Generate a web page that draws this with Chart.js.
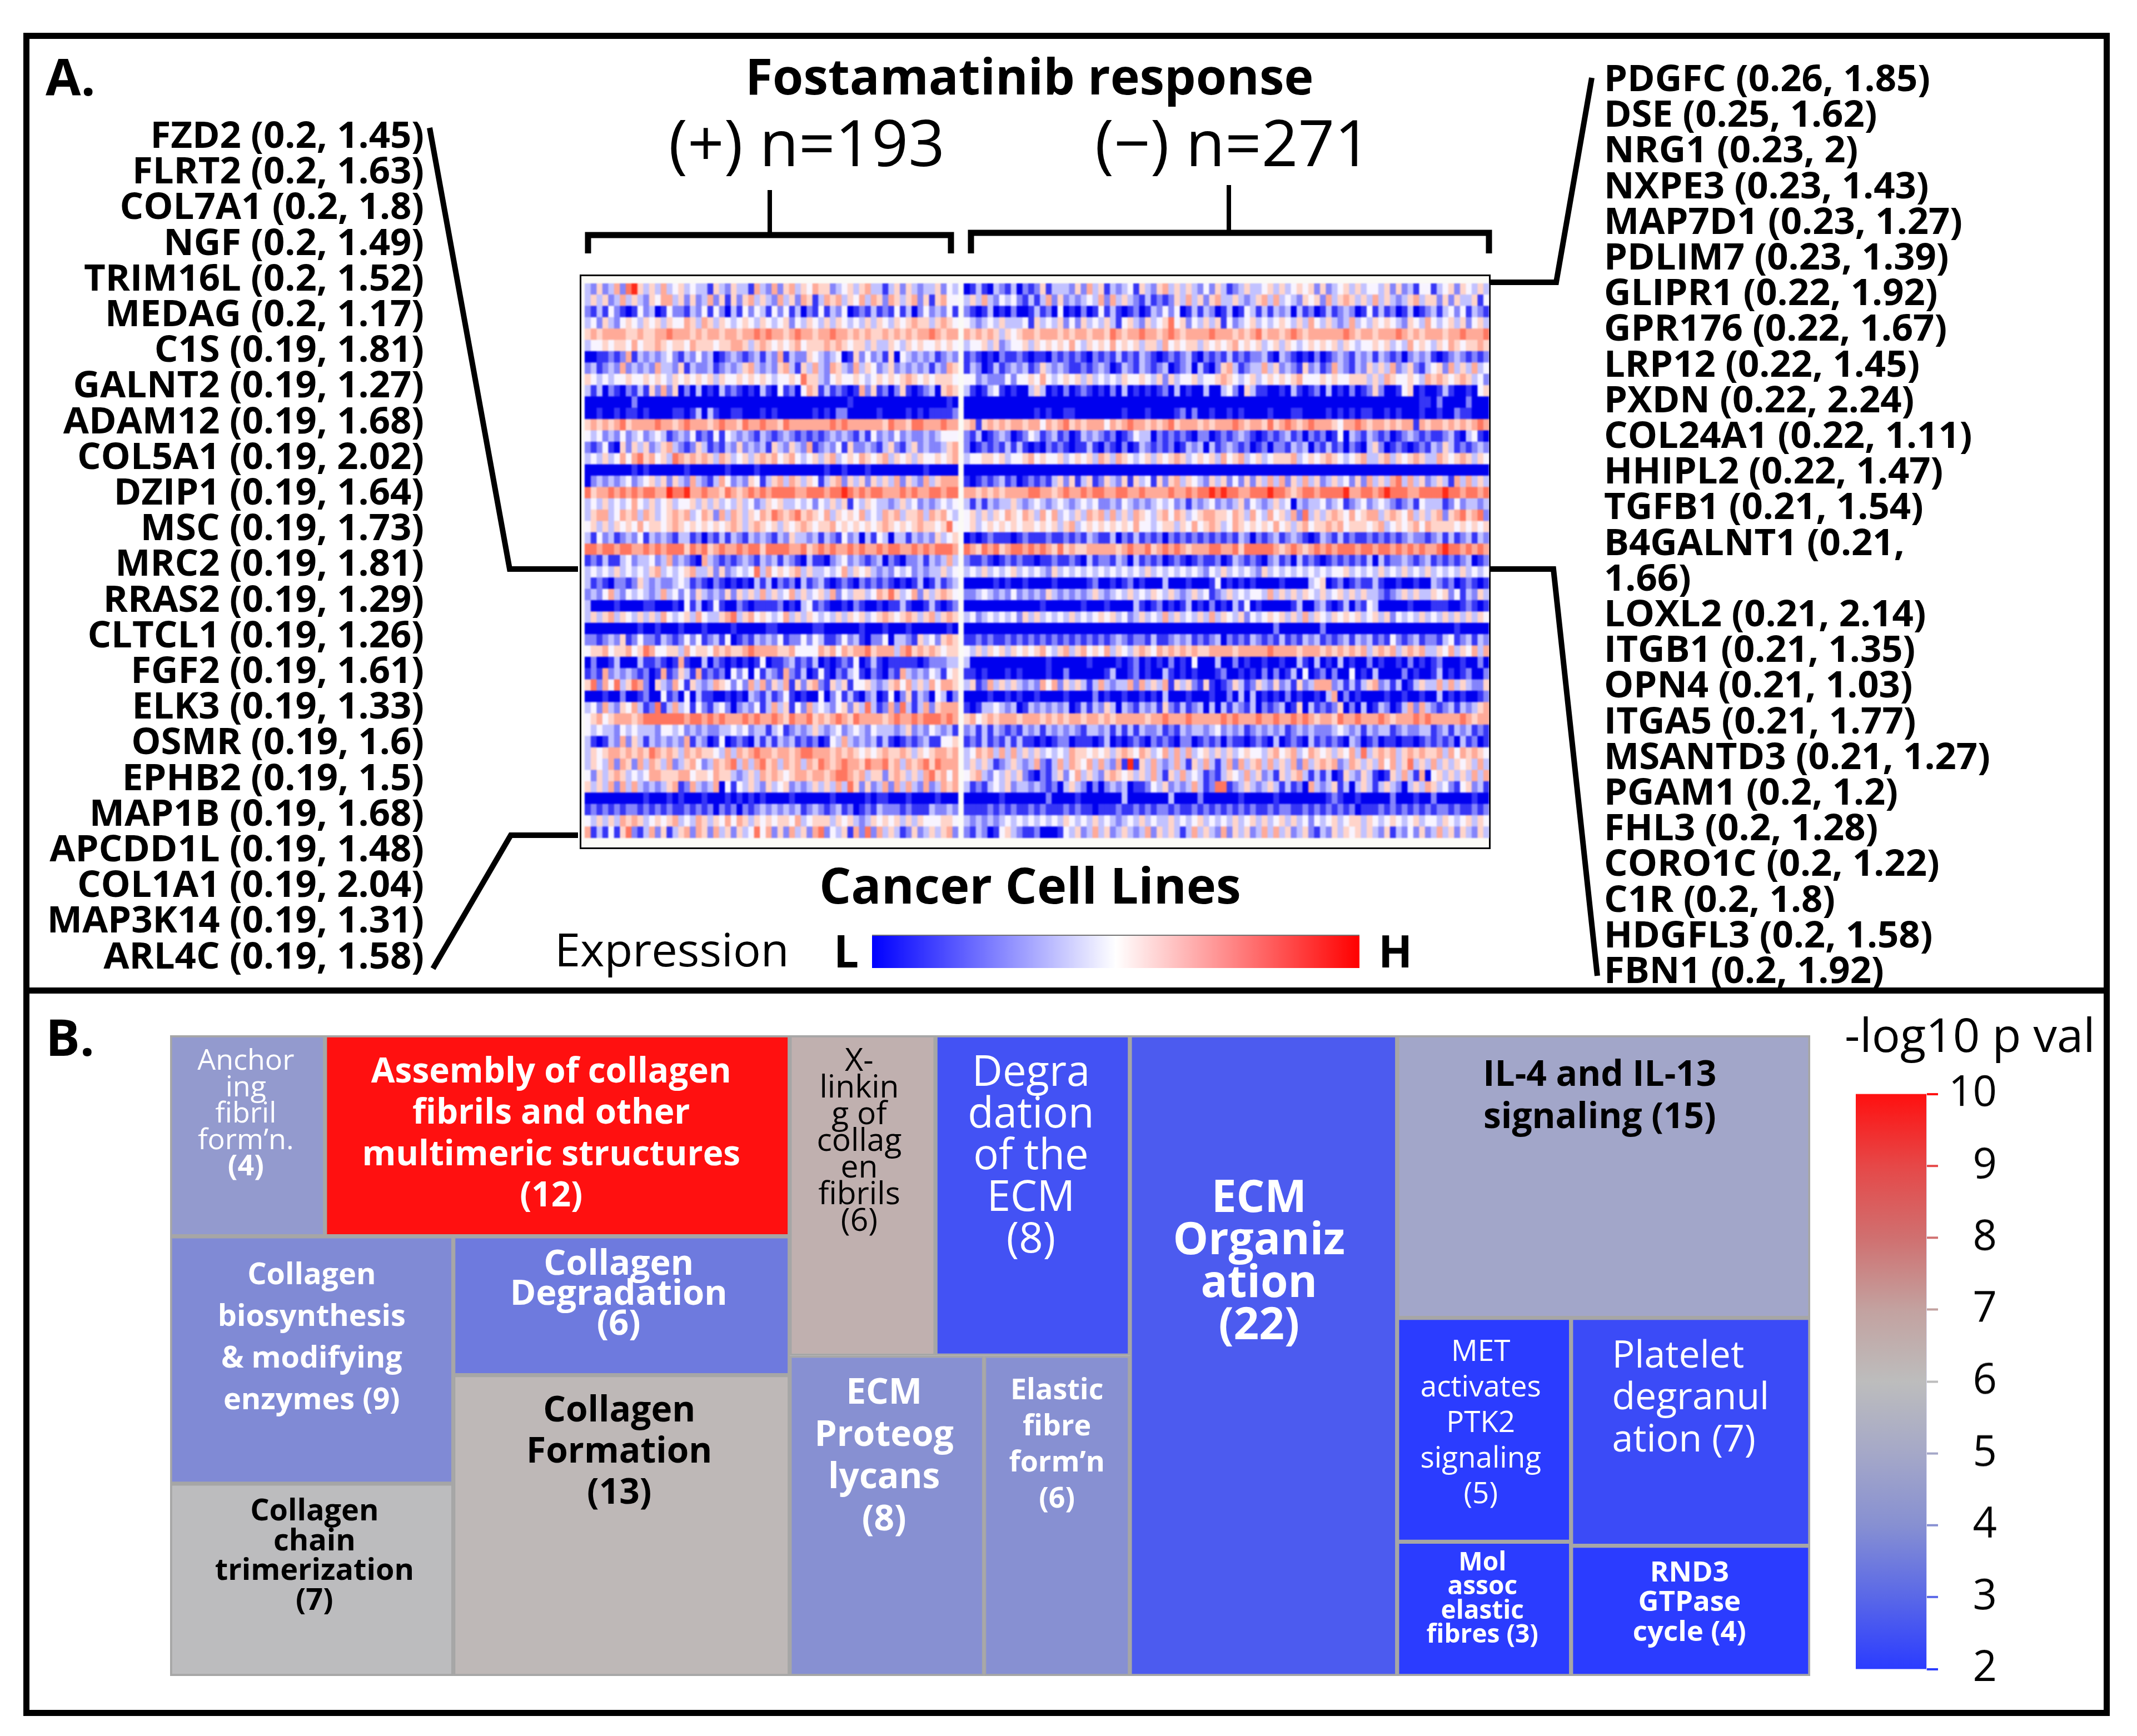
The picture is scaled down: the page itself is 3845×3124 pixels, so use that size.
<!DOCTYPE html>
<html lang="en">
<head>
<meta charset="UTF-8" />
<title>Fostamatinib response</title>
<script src="https://cdn.jsdelivr.net/npm/chart.js"></script>
<style>
  body { margin: 0; background: #fff; color: #000; font-family: 'Open Sans', sans-serif; width: 3845px; height: 3124px; position: relative; overflow: hidden; }
  .abs { position: absolute; white-space: pre; }
  .bold { font-weight: 700; }
  #frame { position: absolute; left: 42px; top: 59px; width: 3732px; height: 3007px; border: 11px solid #000; }
  #divider { position: absolute; left: 42px; top: 1777px; width: 3754px; height: 11px; background: #000; }
  #heatBox { position: absolute; left: 1043px; top: 494px; width: 1633px; height: 1028px; border: 3px solid #000; background: #fbfaf6; }
  #heat { position: absolute; left: 1052px; top: 510px; width: 1627px !important; height: 998px !important; filter: blur(0.8px); }
  #tree { position: absolute; left: 306px; top: 1863px; }
  #pbar { position: absolute; left: 3339px; }
  #ebar { position: absolute; left: 1569px; top: 1682px; border-top: 2px solid rgba(0,0,0,.55); }
  #lines { position: absolute; left: 0; top: 0; }
  .gene { font-weight: 700; font-size: 67px; line-height: 64.2px; }
  .tile { text-align: center; }
</style>
</head>
<body>
<div id="frame"></div>
<div id="divider"></div>
<div id="heatBox"></div>
<canvas id="heat" width="1550" height="980"></canvas>
<canvas id="tree" width="2951" height="1153"></canvas>
<canvas id="ebar" width="877" height="60"></canvas>
<canvas id="pbar" width="251" height="1135"></canvas>
<svg id="lines" width="3845" height="3124" fill="none" stroke="#000">
  <g stroke-width="10">
    <polyline points="773,230 917,1024 1040,1024" />
    <polyline points="779,1743 919,1503 1040,1503" />
    <polyline points="2864,140 2800,508 2680,508" />
    <polyline points="2682,1024 2795,1024 2874,1756" />
  </g>
  <g stroke-width="11">
    <path d="M1058,456 V423 H1711 V456" />
    <path d="M1747,456 V419 H2679 V456" />
  </g>
  <g stroke-width="8">
    <path d="M1385,342 V420" />
    <path d="M2211,333 V416" />
  </g>
</svg>
<div class="abs bold" style="left:82px;top:74px;font-size:92px">A.</div>
<div class="abs bold" style="left:82px;top:1802px;font-size:92px">B.</div>
<div class="abs bold" style="left:1341px;top:74px;font-size:89.5px">Fostamatinib response</div>
<div class="abs" style="left:1203px;top:176px;font-size:115px">(+) n=193</div>
<div class="abs" style="left:1970px;top:176px;font-size:115px">(−) n=271</div>
<div class="abs bold" style="left:1474px;top:1530px;font-size:90px">Cancer Cell Lines</div>
<div class="abs" style="left:998px;top:1650px;font-size:83px">Expression</div>
<div class="abs bold" style="left:1500px;top:1655px;font-size:80px">L</div>
<div class="abs bold" style="left:2480px;top:1655px;font-size:80px">H</div>
<div class="abs" style="left:3319px;top:1802px;font-size:85px">-log10 p val</div>
<div id="geneLeft" class="abs gene" style="right:3082px;top:208px;text-align:right"></div>
<div id="geneRight" class="abs gene" style="left:2886px;top:106px"></div>

<script>
  // genes beside the heatmap: name, first and second number in the brackets
  const leftGenes = ['FZD2','FLRT2','COL7A1','NGF','TRIM16L','MEDAG','C1S','GALNT2','ADAM12','COL5A1','DZIP1','MSC','MRC2','RRAS2','CLTCL1','FGF2','ELK3','OSMR','EPHB2','MAP1B','APCDD1L','COL1A1','MAP3K14','ARL4C'];
  const leftCorr = [0.2,0.2,0.2,0.2,0.2,0.2,0.19,0.19,0.19,0.19,0.19,0.19,0.19,0.19,0.19,0.19,0.19,0.19,0.19,0.19,0.19,0.19,0.19,0.19];
  const leftFold = [1.45,1.63,1.8,1.49,1.52,1.17,1.81,1.27,1.68,2.02,1.64,1.73,1.81,1.29,1.26,1.61,1.33,1.6,1.5,1.68,1.48,2.04,1.31,1.58];
  const rightGenes = ['PDGFC','DSE','NRG1','NXPE3','MAP7D1','PDLIM7','GLIPR1','GPR176','LRP12','PXDN','COL24A1','HHIPL2','TGFB1','B4GALNT1','LOXL2','ITGB1','OPN4','ITGA5','MSANTD3','PGAM1','FHL3','CORO1C','C1R','HDGFL3','FBN1'];
  const rightCorr = [0.26,0.25,0.23,0.23,0.23,0.23,0.22,0.22,0.22,0.22,0.22,0.22,0.21,0.21,0.21,0.21,0.21,0.21,0.21,0.2,0.2,0.2,0.2,0.2,0.2];
  const rightFold = [1.85,1.62,2,1.43,1.27,1.39,1.92,1.67,1.45,2.24,1.11,1.47,1.54,1.66,2.14,1.35,1.03,1.77,1.27,1.2,1.28,1.22,1.8,1.58,1.92];

  const heatPlus = [
    '3252362785 3536345343 3153253316 3262563546 5523453563 3135253233 5243',
    '3535236353 2546635252 3625152563 5326352651 3656354636 5265356251 5644',
    '2131421014 2301422132 4142031424 3142413021 4132401213 1214130242 3241',
    '3425324543 5453544653 6535434543 5434524354 3535434353 5435456553 5654',
    '5656666556 5566766656 5665665667 6766567665 6676656565 5656565667 6566',
    '3445455464 5565455465 5545566535 6545456455 5656545535 3354354544 5454',
    '0011212613 2323421324 2301232123 1326132254 3234015242 3150432323 1232',
    '2312326232 3263325132 2312323563 2325631536 3265326354 2352323231 3265',
    '5434344544 5454354545 4535445454 5434454755 3245445434 5454565454 5554',
    '3130210213 1526250203 0103121010 3104120465 1312101625 1202510123 0565',
    '0000000020 0000000000 0000000000 0000000000 0000010000 0000000000 0010',
    '0010010110 1000011013 0310011000 1010000001 0102200000 1000010101 1112',
    '5656567566 6676656766 6567665766 7665766666 6676766666 6576657766 6766',
    '4342324234 2343123241 2141432321 3212321212 1232321314 2324232232 3444',
    '2124105253 5235632125 3121325232 3153253261 2324152232 1352135232 2356',
    '3435346467 5645376565 6536534535 6564564345 3563454654 5635453544 5456',
    '0000000010 1000000100 0000100001 0000000000 0100100010 0000000010 0000',
    '0232323423 4535253263 2136423254 1356365354 1356253525 3536253263 5666',
    '7566767676 7766877866 7665765676 7677776677 7677876767 7666767667 7677',
    '3435343464 3534534453 5353435342 3545334342 4353514354 3323534232 3434',
    '3566346563 6534565634 6526365354 6576567565 4635454634 3656355636 5643',
    '4535354546 4554565454 5454565356 5453545654 5564545454 5654545655 4574',
    '3142312324 1323213312 0213132132 3213253323 1321423031 4303313232 5345',
    '7767767766 7676777576 7567667677 5777766756 7676676766 7677667676 7776',
    '1213113423 3423623210 6321212321 3231321031 1023423212 3021022313 2363',
    '3434353434 3563434563 3525234347 3645456353 3434635453 2324342323 3534',
    '3121022125 3232234312 1021010103 1302120312 3101210212 1210101301 3123',
    '2324632434 3236342425 3232525353 6353463534 5362435534 6575346253 5654',
    '3000010000 1100010413 0141002101 1112010341 2100102100 1011310013 1012',
    '3535635435 3536434536 4335673564 5434635354 3435354534 5654565356 3565',
    '0000000001 0010001000 1000010000 0110000001 1000000100 0100010000 0010',
    '2212325124 2213212424 1231401213 2324122424 3112423102 2403321534 2565',
    '4556455645 7644553645 5465655676 6665564444 6564656675 6663675656 5455',
    '0200130003 1121016100 3021010101 4011231213 0101214013 1011111012 2233',
    '1216232321 2016125316 1212042404 1321621301 4102134102 1021632324 3145',
    '5726473576 2053264153 2365424263 6253615256 2153514453 2356463536 4665',
    '0001002001 2004120403 1100101032 1312410100 4024131023 0140251320 4302',
    '3426325463 1271363414 2134202324 1363514263 4324525373 1262731362 5666',
    '4564566656 7777777677 6767666767 6676576675 6567657666 6567667677 7676',
    '4343324343 3324434232 3223343423 3134123235 3234234324 3332352324 3231',
    '3101326253 1323232613 2014012103 1313231212 0143632323 1310121231 1445',
    '3545665656 5765653656 5543636567 6656656776 6656565454 5655653545 6656',
    '3543626526 3653623564 2365673636 7563656365 7656766576 6756365675 7666',
    '4253565343 4665556645 5465532353 6565456656 6567765635 5256535367 5646',
    '5353626363 2323561263 2360414353 2534523235 3536375252 3626363262 3656',
    '0000000000 1000101000 1000101010 1000010000 0010000010 1100010000 1000',
    '1212121221 2121211212 1202120212 3232323123 2123120121 3222121113 2232',
    '4353536565 3454563436 5354646535 4545546345 5535453235 4545353544 4554',
    '6131415721 3625135626 5263525347 4625263526 7243516272 6353125235 3562'
  ];
  const heatMinus = [
    '0131032130 2125133325 2635132341 5325635353 2425312353 3453534545 2523453534 4352523144 1345254353',
    '3536324342 1313625232 3436263532 1312125363 5256335323 5636343254 5263565353 6353235635 5252533514',
    '2101301020 0131204010 2014131012 0132424013 1320130143 1313230312 0131232014 1312013012 3134241321',
    '4323435333 4153435242 5343531453 2534574524 3535142345 3434543536 4353236343 5454325436 4345352453',
    '6565653545 6656665656 6566576566 7665676566 6676665656 7566567656 6666676566 5666765656 6656676667',
    '3445352344 5354545464 3545464545 3553645455 3545456454 5345354345 4545354344 5453436454 3546545565',
    '1210102112 1011021212 1021213121 3210121231 0212131212 2310321010 2012321323 1321202323 1012321212',
    '1320131232 3125323211 2123201321 3212301230 3102563123 3635232152 3126321325 3536235213 4526353634',
    '4423222424 4546434545 3534343544 5435253445 3445654345 3454545644 4545445553 5365445436 5654565342',
    '3101341010 0353010201 2101020301 0101203010 0300342053 1100103101 2030102012 5200145010 0131001045',
    '0000000000 0000000000 0000000000 0000000000 0000000000 0000000000 0000000000 0000000011 0200002000',
    '0000000000 0010100110 0000000100 0100001202 0010010100 0010001100 0010101011 0010100010 0100211000',
    '5615656566 5664656756 5666465676 6565675666 5656667656 6575676567 6665466765 6656566165 6656565676',
    '2130123201 2431231201 3232120124 3302121210 2201212321 0121231202 1201403213 2120123212 1123103410',
    '2012121313 1010212101 1310210201 3212120132 3031232120 1202213230 2131202103 5201210121 3253121232',
    '3445545344 5645445345 4536536543 4535456534 5453645634 5345556345 4565434563 3563545653 3654565354',
    '0000000000 0000000000 0000000000 0000000000 0000000000 0000000000 0000000000 0000000000 0000000000',
    '1012123120 1212135251 3512532515 3415256354 3253524252 5363625363 5235342526 3536736352 3531636353',
    '6656565666 6776656766 7677667766 7666676676 7787877667 7787765677 6777786677 6787776677 7787767767',
    '3131323353 2343234323 4342232432 3234342313 2342323524 3235340323 3423412342 3432123143 3312423323',
    '4535354654 6536463435 3656363536 5435646534 5665546536 4364536273 5356546456 6356546353 5625675672',
    '4534545454 5545453563 4545454546 4434553546 4565346545 4546453564 5565645554 5634545646 5555454545',
    '0101211101 2111211212 1321130213 1212021212 1212121320 2123123210 1321312112 1212123221 2313123132',
    '7657675677 6767657565 5666665676 6756767656 6677667577 7776567656 7676777677 6776767676 6787767676',
    '2112101212 1101121121 0312213203 1212012101 2112013212 1023120312 1012121213 0312232123 1212123012',
    '3435343453 4343253434 3434343434 3534343434 3243534343 2534343434 3434453434 3534353435 3434353434',
    '0000010100 1000010000 0120010120 1000300010 0014010101 0000100003 4501201211 3100100100 3212012101',
    '2234323242 3232532323 2353234353 4354353235 3412353434 4363535354 3534535353 3212353533 5452413253',
    '0000000000 0001000000 1000100003 1012010130 1020103140 1000001300 2310130214 3000001000 1110012101',
    '3423434342 5353434353 4345453423 5343635343 5363543524 3454535363 5435454534 5352434353 4353535354',
    '0000000000 0000000000 0000000000 0000000000 0000000000 0002000000 0200000000 0000000000 0000100000',
    '1121211212 1212121212 1212123212 2131123231 2123021213 2121312132 3121231323 1214212312 2134123132',
    '4353545354 5456435635 6454635435 6546565656 5566665666 6676666566 6565656563 5656356563 3546354636',
    '3000000000 0000100000 0100001012 0101020104 0003002010 0100100310 3010301002 0100102010 1200010020',
    '1101000101 0000100200 0000130012 0100310101 0001200101 0202013040 1202004010 3000020100 1301012002',
    '3512635353 2326462535 3136323362 6353615352 1510125312 5325231523 6662313135 6231301353 3636353225',
    '0000100101 0010000100 0020100100 1010300010 0010020303 0101020100 1036020100 0010010010 0301010012',
    '1013343230 1323232301 3132530321 3231521312 3030313213 0212301503 1212502030 1320136263 2123132356',
    '5645656665 6665656566 5665656666 6566766676 6666767666 7667667676 5665766766 6765666767 6666676566',
    '2313132121 3231323232 1332313131 3223121323 3234232312 3232312323 2223432313 2331232233 1231323121',
    '1213121313 1101012201 1101301012 1021210220 1212021101 2103012103 1212103201 2011011012 1212031201',
    '3465636363 5353434365 5454535654 6534636363 4535353454 4356456346 5453546373 5656356565 5636465654',
    '3535312353 2362136365 4636326181 5363236315 3631362635 6363536263 5656236535 3646357353 6353545363',
    '4563243535 2102135246 3532565453 5363153634 3121354363 5231535631 3130153253 1015363160 4535353636',
    '3121343523 3232120353 2020232301 1243523236 3127712353 2353131206 3235130353 1353203536 5342145231',
    '0000001000 0000200001 0000000300 0000030000 2000000100 0001000000 0012100100 0002000100 2000000100',
    '1111212121 1212111212 1101112112 1212212112 1212121212 1121221121 2121212011 1212121212 1221211212',
    '3232323434 3434343543 4353432343 5343353434 5343435345 3534535342 4345345535 4345434534 4354345354',
    '2132014532 1120001435 2363523532 3625353136 3532625352 3636352352 1325354535 3251324252 3635253253'
  ];
  const heatLevelColors = ['#0000ee','#3636f6','#8484fb','#c2c2ff','#f8f4ff','#ffd4ca','#ffaa98','#ff7660','#ff2a18'];

  // pathway treemap, area follows the gene count
  const tileNames = ['Anchor\ning\nfibril\nform’n.\n(4)','Assembly of collagen\nfibrils and other\nmultimeric structures\n(12)','Collagen\nbiosynthesis\n& modifying\nenzymes (9)','Collagen\nDegradation\n(6)','Collagen\nchain\ntrimerization\n(7)','Collagen\nFormation\n(13)','X-\nlinkin\ng of\ncollag\nen\nfibrils\n(6)','Degra\ndation\nof the\nECM\n(8)','ECM\nProteog\nlycans\n(8)','Elastic\nfibre\nform’n\n(6)','ECM\nOrganiz\nation\n(22)','IL-4 and IL-13\nsignaling (15)','MET\nactivates\nPTK2\nsignaling\n(5)','Platelet\ndegranul\nation (7)','Mol\nassoc\nelastic\nfibres (3)','RND3\nGTPase\ncycle (4)'];
  const tileCounts = [4,12,9,6,7,13,6,8,8,6,22,15,5,7,3,4];
  const tileLogP = [4.4,10,3.85,3.45,5.95,6.2,6.5,2.5,4,4,2.7,4.9,2,2.35,2,2];
  // nesting of the tiles: 'h' splits side by side, 'v' splits top to bottom
  const tileNesting = ['h', ['v', ['h',0,1], ['h', ['v',2,4], ['v',3,5]]], ['v', ['h',6,7], ['h',8,9]], 10, ['v', 11, ['h', ['v',12,14], ['v',13,15]]]];
  // font size, line height, weight, colour, first line centre below tile top, shift, align
  const tileStyles = [
    [52,47.5,400,'#fff',42,-3],[62,74.5,700,'#fff',61,-11],[54,75,700,'#fff',66,0],[63,54,700,'#fff',45,-5],
    [54,53.5,700,'#000',46,5],[64,74,700,'#000',59,-4],[57,48,400,'#000',42,-6],[76,75,400,'#fff',61,-3],
    [64,76,700,'#fff',62,-5],[52,65,700,'#fff',58,0],[80,76.5,700,'#fff',287,-8],[64,76.5,700,'#000',67,-7],
    [53,64,400,'#fff',57,-6],[68,75.5,400,'#fff',63,0,'left'],[46,43.5,700,'#fff',34,-3],[51,53.5,700,'#fff',45,-2]
  ];

  // colour scales
  const logPTicks = [2,3,4,5,6,7,8,9,10];
  const logPColors = ['#2b3cff','#5a68e8','#8790d2','#a5a8c8','#bdbdbd','#c3a2a0','#d07070','#e64848','#ff1010'];
  const expressionColors = ['#0000ff','#ffffff','#ff0000'];

  const geneText = (names, corr, fold) => names.map((g, i) => `${g} (${corr[i]}, ${fold[i]})`).join('\n');
  document.getElementById('geneLeft').textContent = geneText(leftGenes, leftCorr, leftFold);
  document.getElementById('geneRight').textContent = geneText(rightGenes, rightCorr, rightFold).replace('(0.21, 1.66)', '(0.21,\n1.66)');

  Chart.defaults.font.family = "'Open Sans', sans-serif";
  const noAxis = { display: false };

  // heatmap, floating bars on the gene axis, one dataset per column block
  const allGenes = leftGenes.concat(rightGenes);
  const rowsPlus = heatPlus.map(r => r.replace(/ /g, ''));
  const rowsMinus = heatMinus.map(r => r.replace(/ /g, ''));
  const plusCols = rowsPlus[0].length;
  const minusCols = rowsMinus[0].length;
  const heatDatasets = [];
  function addColumns(rows, nCols, start) {
    for (let c = 0; c < nCols; c++) {
      heatDatasets.push({
        data: allGenes.map(g => ({ x: [start + c, start + c + 1], y: g })),
        backgroundColor: rows.map(r => heatLevelColors[+r[c]]),
        borderWidth: 0
      });
    }
  }
  addColumns(rowsPlus, plusCols, 0);
  addColumns(rowsMinus, minusCols, plusCols + 1);
  new Chart(document.getElementById('heat'), {
    type: 'bar',
    data: { labels: allGenes, datasets: heatDatasets },
    options: {
      indexAxis: 'y', responsive: false, animation: false, devicePixelRatio: 1,
      grouped: false, categoryPercentage: 1, barPercentage: 1,
      plugins: { legend: noAxis, tooltip: { enabled: false } },
      scales: {
        x: { type: 'linear', display: false, min: 0, max: plusCols + 1 + minusCols },
        y: { display: false }
      }
    }
  });

  function logPColor(v) {
    const i = Math.min(Math.floor(v) - 2, logPTicks.length - 2);
    const t = v - logPTicks[i];
    const hex = s => [1, 3, 5].map(k => parseInt(s.substr(k, 2), 16));
    const a = hex(logPColors[i]), b = hex(logPColors[i + 1]);
    return `rgb(${a.map((n, k) => Math.round(n + (b[k] - n) * t)).join(',')})`;
  }

  // treemap layout worked out from the counts
  const nodeCount = n => typeof n === 'number' ? tileCounts[n] : n.slice(1).reduce((s, k) => s + nodeCount(k), 0);
  const tileBoxes = [];
  function layout(node, x0, x1, y0, y1) {
    if (typeof node === 'number') { tileBoxes[node] = { x0, x1, y0, y1 }; return; }
    const total = nodeCount(node);
    let pos = node[0] === 'h' ? x0 : y0;
    const span = node[0] === 'h' ? x1 - x0 : y1 - y0;
    node.slice(1).forEach(kid => {
      const next = pos + span * nodeCount(kid) / total;
      if (node[0] === 'h') layout(kid, pos, next, y0, y1);
      else layout(kid, x0, x1, pos, next);
      pos = next;
    });
  }
  const totalGenes = nodeCount(tileNesting);
  layout(tileNesting, 0, totalGenes, 0, 1);

  const treeCanvas = document.getElementById('tree');
  const treeChart = new Chart(treeCanvas, {
    type: 'bar',
    data: {
      datasets: tileBoxes.map((b, i) => ({
        label: tileNames[i],
        data: [{ x: (b.x0 + b.x1) / 2, y: [b.y0, b.y1] }],
        barThickness: (b.x1 - b.x0) * treeCanvas.width / totalGenes,
        backgroundColor: logPColor(tileLogP[i]),
        borderColor: '#a6a6a6',
        borderWidth: 4,
        borderSkipped: false
      }))
    },
    options: {
      responsive: false, animation: false, devicePixelRatio: 1, grouped: false,
      plugins: { legend: noAxis, tooltip: { enabled: false } },
      scales: {
        x: { type: 'linear', display: false, offset: false, min: 0, max: totalGenes },
        y: { type: 'linear', display: false, reverse: true, min: 0, max: 1 }
      }
    }
  });

  // tile labels as page text, placed from the chart's own scales
  const treeLeft = treeCanvas.offsetLeft, treeTop = treeCanvas.offsetTop;
  tileBoxes.forEach((b, i) => {
    const [size, lh, weight, color, first, shift, align] = tileStyles[i];
    const div = document.createElement('div');
    div.className = 'abs tile';
    const cx = treeLeft + treeChart.scales.x.getPixelForValue((b.x0 + b.x1) / 2) + shift;
    const top = treeTop + treeChart.scales.y.getPixelForValue(b.y0) + first - lh / 2;
    div.style.cssText = `left:${cx}px;top:${top}px;transform:translateX(-50%);font-size:${size}px;line-height:${lh}px;font-weight:${weight};color:${color};text-align:${align || 'center'}`;
    if (i === 0) {
      const lines = tileNames[i].split('\n');
      div.textContent = lines.slice(0, -1).join('\n') + '\n';
      const last = document.createElement('b');
      last.textContent = lines[lines.length - 1];
      div.appendChild(last);
    } else {
      div.textContent = tileNames[i];
    }
    document.body.appendChild(div);
  });

  // -log10 p colour bar
  const pCanvas = document.getElementById('pbar');
  const pChart = new Chart(pCanvas, {
    type: 'bar',
    data: {
      labels: ['-log10 p val'],
      datasets: [{
        data: [[2, 10]],
        backgroundColor: ctx => {
          const { chart } = ctx;
          if (!chart.chartArea) return logPColors[0];
          const g = chart.ctx.createLinearGradient(0, chart.chartArea.bottom, 0, chart.chartArea.top);
          logPTicks.forEach((t, i) => g.addColorStop(i / (logPTicks.length - 1), logPColors[i]));
          return g;
        },
        categoryPercentage: 1, barPercentage: 1
      }]
    },
    options: {
      responsive: false, animation: false, devicePixelRatio: 1,
      plugins: { legend: noAxis, tooltip: { enabled: false } },
      scales: {
        x: { display: false },
        y: {
          position: 'right', min: 2, max: 10,
          afterBuildTicks: s => { s.ticks = logPTicks.map(v => ({ value: v })); },
          border: { display: true, color: '#dcdcf0', width: 2 },
          grid: { drawOnChartArea: false, tickLength: 21, lineWidth: 4, color: c => logPColor(c.tick.value) },
          ticks: { color: '#000', padding: 13, crossAlign: 'far', font: { size: 76 }, autoSkip: false, maxRotation: 0 }
        }
      }
    }
  });
  // size the canvas so the bar itself spans the wanted height and width on the page
  const pArea = pChart.chartArea;
  pChart.resize(130 + pCanvas.width - (pArea.right - pArea.left), 1034 + pCanvas.height - (pArea.bottom - pArea.top));
  pCanvas.style.top = (1969 - pChart.chartArea.top) + 'px';

  // expression L to H bar
  new Chart(document.getElementById('ebar'), {
    type: 'bar',
    data: {
      labels: ['Expression'],
      datasets: [{
        data: [[0, 1]],
        backgroundColor: ctx => {
          const { chart } = ctx;
          if (!chart.chartArea) return expressionColors[0];
          const g = chart.ctx.createLinearGradient(chart.chartArea.left, 0, chart.chartArea.right, 0);
          expressionColors.forEach((c, i) => g.addColorStop(i / (expressionColors.length - 1), c));
          return g;
        },
        categoryPercentage: 1, barPercentage: 1
      }]
    },
    options: {
      indexAxis: 'y', responsive: false, animation: false, devicePixelRatio: 1,
      plugins: { legend: noAxis, tooltip: { enabled: false } },
      scales: {
        x: { type: 'linear', display: false, min: 0, max: 1 },
        y: { display: false }
      }
    }
  });
</script>
</body>
</html>
